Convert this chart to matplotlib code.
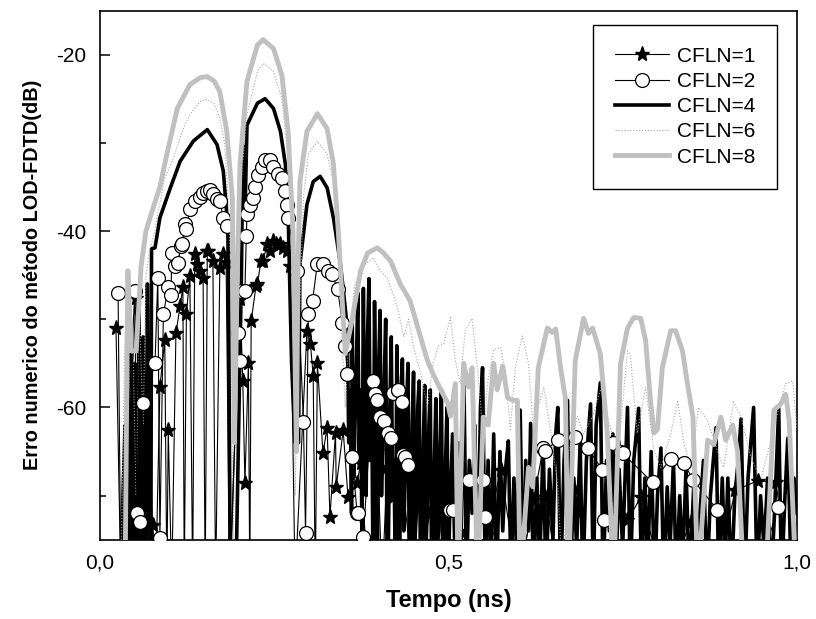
import matplotlib.pyplot as plt
from matplotlib.ticker import MultipleLocator
import numpy as np

plt.rcParams['font.family'] = ['Liberation Sans', 'DejaVu Sans']
plt.rcParams['axes.unicode_minus'] = False

# valores: tempo (ns) e erro (dB); -80 = abaixo do eixo
t1 = [0.023, 0.030, 0.052, 0.060, 0.076, 0.080, 0.086, 0.093, 0.096, 0.098, 0.103, 0.109, 0.115, 0.119, 0.121,
      0.124, 0.129, 0.133, 0.136, 0.139, 0.144, 0.148, 0.151, 0.154, 0.155, 0.162, 0.166, 0.172, 0.177, 0.181,
      0.186, 0.201, 0.205, 0.208, 0.213, 0.215, 0.217, 0.224, 0.226, 0.231, 0.234, 0.240, 0.244, 0.249, 0.253,
      0.259, 0.263, 0.269, 0.273, 0.280, 0.297, 0.302, 0.306, 0.309, 0.312, 0.320, 0.326, 0.330, 0.338, 0.339,
      0.349, 0.356, 0.369, 0.374, 0.385, 0.398, 0.405, 0.412, 0.421, 0.431, 0.450, 0.474, 0.490, 0.517, 0.540,
      0.575, 0.600, 0.622, 0.639, 0.660, 0.680, 0.710, 0.736, 0.757, 0.776, 0.810, 0.848, 0.880, 0.912, 0.944,
      0.970, 0.990]
v1 = [-51.0, -80, -47.6, -80, -73.3, -80, -57.7, -52.4, -80, -62.6, -80, -51.6, -48.5, -46.4, -80,
      -49.4, -45.1, -80, -42.6, -43.7, -44.5, -45.3, -80, -42.3, -42.3, -43.4, -80, -44.2, -42.6, -43.5,
      -80, -47.7, -57.0, -68.6, -55.0, -80, -50.2, -46.2, -46.0, -43.4, -43.4, -41.5, -42.3, -41.1, -41.5,
      -41.5, -41.9, -42.3, -44.0, -80, -51.3, -52.8, -56.4, -80, -55.0, -65.2, -62.3, -72.4, -62.9, -69.0,
      -62.6, -70.2, -68.6, -66.3, -80, -64.9, -80, -66.8, -70.2, -66.3, -80, -72.0, -80, -74.0, -80,
      -67.1, -80, -70.5, -70.2, -80, -69.2, -80, -67.7, -72.8, -70.2, -80, -73.0, -80, -69.4, -68.3,
      -68.5, -80]

t2 = [0.026, 0.030, 0.050, 0.053, 0.057, 0.062, 0.079, 0.083, 0.086, 0.091, 0.098, 0.102, 0.103, 0.108,
      0.112, 0.116, 0.118, 0.122, 0.124, 0.129, 0.136, 0.144, 0.148, 0.154, 0.158, 0.162, 0.168, 0.172,
      0.177, 0.182, 0.187, 0.198, 0.201, 0.203, 0.208, 0.210, 0.211, 0.216, 0.220, 0.223, 0.227, 0.233,
      0.237, 0.244, 0.249, 0.256, 0.261, 0.266, 0.269, 0.270, 0.283, 0.292, 0.295, 0.299, 0.305, 0.312,
      0.320, 0.327, 0.333, 0.341, 0.348, 0.352, 0.355, 0.362, 0.369, 0.371, 0.378, 0.392, 0.395, 0.398,
      0.402, 0.407, 0.414, 0.417, 0.421, 0.427, 0.428, 0.434, 0.435, 0.438, 0.442, 0.503, 0.507, 0.529,
      0.549, 0.553, 0.600, 0.636, 0.639, 0.657, 0.682, 0.700, 0.721, 0.723, 0.736, 0.747, 0.750, 0.793,
      0.819, 0.838, 0.851, 0.886, 0.940, 0.973, 0.990]
v2 = [-47.0, -80, -46.8, -72.0, -73.0, -59.5, -55.0, -45.3, -74.8, -49.4, -46.4, -47.3, -42.5, -44.0,
      -43.6, -41.7, -41.5, -39.2, -39.8, -37.5, -36.6, -36.1, -35.7, -35.5, -35.3, -35.8, -36.4, -36.6,
      -38.5, -39.4, -80, -51.6, -54.7, -46.8, -46.8, -40.6, -38.1, -37.0, -36.3, -35.0, -33.6, -32.7,
      -31.9, -31.9, -32.7, -33.5, -34.0, -35.5, -37.0, -38.5, -44.5, -61.7, -74.2, -49.4, -47.9, -43.7,
      -43.7, -44.5, -44.9, -46.6, -50.4, -53.0, -56.2, -65.6, -72.0, -72.0, -74.7, -57.0, -58.5, -59.2,
      -61.1, -61.5, -62.9, -63.5, -58.4, -58.0, -58.0, -59.4, -65.4, -65.6, -66.5, -71.6, -71.6, -68.2,
      -68.2, -72.4, -80, -64.6, -64.9, -63.7, -63.4, -64.6, -67.1, -72.8, -64.0, -65.0, -65.2, -68.5,
      -65.8, -66.3, -68.2, -71.6, -80, -71.3, -80]

t4 = [0.030, 0.033, 0.036, 0.038, 0.040, 0.042, 0.044, 0.046, 0.047, 0.049, 0.050, 0.052, 0.053, 0.055,
      0.056, 0.058, 0.059, 0.061, 0.062, 0.064, 0.065, 0.067, 0.068, 0.070, 0.071, 0.073, 0.074,
      0.079, 0.086, 0.101, 0.115, 0.134, 0.154, 0.168, 0.177, 0.184, 0.187, 0.195, 0.203, 0.205, 0.208,
      0.211, 0.226, 0.237, 0.249, 0.259, 0.266, 0.270, 0.275, 0.280, 0.285, 0.287, 0.297, 0.306, 0.316,
      0.326, 0.335, 0.345, 0.349, 0.355, 0.357, 0.359, 0.361, 0.362, 0.364, 0.366, 0.368, 0.370, 0.372,
      0.374, 0.376, 0.378, 0.380, 0.382, 0.384, 0.386, 0.388, 0.390, 0.392, 0.394, 0.396, 0.398, 0.400,
      0.402, 0.404, 0.406, 0.408, 0.410, 0.412, 0.414, 0.416, 0.418, 0.420, 0.422, 0.424, 0.426, 0.428,
      0.430, 0.432, 0.434, 0.436, 0.438, 0.440, 0.442, 0.444, 0.446, 0.448, 0.450, 0.452, 0.454, 0.456,
      0.458, 0.460, 0.462, 0.464, 0.466, 0.468, 0.470, 0.472, 0.474, 0.476, 0.478, 0.480, 0.482, 0.484,
      0.486, 0.488, 0.490, 0.492, 0.494, 0.496, 0.498, 0.500, 0.502,
      0.506, 0.510, 0.514, 0.518, 0.522, 0.526, 0.530, 0.534, 0.538, 0.542, 0.546, 0.549, 0.553, 0.557,
      0.561, 0.565, 0.569, 0.574, 0.578, 0.582, 0.586, 0.590, 0.594, 0.598, 0.603, 0.607, 0.611, 0.615,
      0.618, 0.622, 0.627, 0.631, 0.636, 0.640, 0.645, 0.650, 0.654, 0.657, 0.661, 0.666, 0.671, 0.675,
      0.680, 0.684, 0.689, 0.693, 0.698, 0.704, 0.708, 0.712, 0.718, 0.722, 0.727, 0.731, 0.736, 0.740,
      0.745, 0.750, 0.757, 0.761, 0.766, 0.773, 0.777, 0.782, 0.786, 0.791, 0.796, 0.800, 0.805, 0.809,
      0.814, 0.818, 0.823, 0.827, 0.832, 0.836, 0.841, 0.846, 0.852, 0.856, 0.861, 0.866, 0.871, 0.876,
      0.884, 0.888, 0.893, 0.897, 0.901, 0.906, 0.911, 0.916, 0.920, 0.925, 0.930, 0.938, 0.943, 0.948,
      0.953, 0.958, 0.963, 0.968, 0.974, 0.978, 0.983, 0.987, 0.992, 0.996, 1.000]
v4 = [-80, -70, -62, -80, -58, -80, -52, -76, -60, -80, -55, -78, -66, -80,
      -49, -74, -62, -80, -52, -70, -60, -80, -46, -72, -58, -80, -42,
      -41.9, -38.5, -35.1, -32.1, -29.8, -28.5, -30.2, -33.2, -40, -80, -80, -45, -30.2, -38.5,
      -28, -25.5, -25, -26.1, -28.7, -32.4, -38, -55, -64, -64, -43.7, -37, -34.4, -33.8,
      -35.1, -38.5, -43.7, -46.5, -51, -64, -58, -72, -50, -68, -62, -55, -47, -66,
      -58, -75, -46.5, -64, -70, -52, -45.4, -66, -60, -80, -48, -62, -80, -55,
      -49, -70, -63, -57, -50, -78, -75, -60, -52, -70, -66, -80, -53, -64,
      -80, -58, -54.5, -74, -68, -60, -55, -80, -80, -62, -56, -75, -72, -60,
      -57, -80, -80, -64, -57.5, -76, -70, -62, -58, -80, -80, -66, -59, -76,
      -74, -64, -58, -80, -80, -66, -60, -78, -72,
      -63, -80, -64, -76, -55, -80, -66, -72, -62, -80, -60, -55.5, -80, -66,
      -78, -63, -80, -65, -74, -67, -63.8, -80, -68, -76, -60.3, -80, -66, -74,
      -61.8, -80, -68, -78, -64, -80, -67, -75, -63, -60, -80, -66, -59.2, -80,
      -68, -76, -64, -80, -66, -59.6, -80, -62, -57.2, -80, -66, -74, -63, -80,
      -67, -76, -60, -80, -66, -60.1, -80, -68, -78, -65, -80, -70, -64.6, -80,
      -69, -76, -66, -80, -70, -78, -67, -80, -69, -80, -72, -66, -80, -70,
      -62.3, -80, -68, -78, -68, -80, -70, -66, -61.3, -80, -68, -60, -80, -70,
      -76, -68, -80, -72, -60.1, -80, -70, -63.5, -80, -68, -72]

t6 = [0.030, 0.035, 0.039, 0.043, 0.047, 0.052, 0.056, 0.062, 0.066, 0.072, 0.079, 0.082, 0.093, 0.105,
      0.119, 0.129, 0.144, 0.154, 0.164, 0.172, 0.179, 0.184, 0.188, 0.191, 0.195, 0.199, 0.204, 0.211,
      0.226, 0.234, 0.249, 0.261, 0.270, 0.276, 0.280, 0.284, 0.292, 0.299, 0.312, 0.326, 0.335, 0.342,
      0.346, 0.352, 0.357, 0.366, 0.378, 0.392, 0.402, 0.412, 0.420, 0.427, 0.436, 0.443, 0.450, 0.460,
      0.470, 0.478, 0.486, 0.493, 0.503, 0.510, 0.517, 0.524, 0.534, 0.539, 0.546, 0.550, 0.556, 0.565,
      0.575, 0.582, 0.589, 0.596, 0.606, 0.615, 0.622, 0.629, 0.637, 0.647, 0.657, 0.664, 0.671, 0.685,
      0.694, 0.707, 0.721, 0.728, 0.743, 0.757, 0.761, 0.771, 0.783, 0.795, 0.805, 0.819, 0.829, 0.838,
      0.848, 0.859, 0.872, 0.886, 0.895, 0.909, 0.920, 0.934, 0.948, 0.963, 0.977, 0.984, 0.994, 1.000]
v6 = [-80, -55, -46, -60, -52, -70, -48, -62, -45, -42, -40, -38.5, -34, -31.8,
      -28.5, -26.8, -25.3, -25.1, -25.6, -27.2, -30, -36.6, -45, -75, -60, -40, -33, -26.8,
      -21.9, -21, -21.9, -25, -31.8, -40, -70, -55, -36.3, -31.3, -29.8, -31.3, -34.5, -40,
      -50, -60, -52, -46, -44, -43, -44.5, -45.3, -47, -48.7, -52, -50, -53.2, -56,
      -60, -55, -53, -52.8, -49.8, -54.7, -57.3, -51.3, -49.9, -53.6, -59.2, -64.9, -57.3, -53.4,
      -53.2, -56.3, -62.5, -55.5, -51.9, -55, -62.9, -59.9, -57.7, -62.9, -69, -80, -65.6, -61,
      -63, -61, -57.3, -60.9, -65.6, -53.6, -54, -62.9, -57.7, -64.9, -66.8, -63, -59.2, -64.1,
      -66.8, -60, -61.5, -64.9, -66.8, -59.4, -61.1, -65.6, -68.2, -63.7, -59.2, -57.3, -57, -62.3]

t8 = [0.036, 0.040, 0.045, 0.052, 0.059, 0.066, 0.075, 0.086, 0.096, 0.111, 0.129, 0.144, 0.154, 0.164,
      0.172, 0.182, 0.190, 0.193, 0.197, 0.201, 0.211, 0.226, 0.234, 0.249, 0.261, 0.270, 0.277, 0.282,
      0.284, 0.287, 0.297, 0.312, 0.326, 0.335, 0.342, 0.352, 0.362, 0.374, 0.384, 0.398, 0.407, 0.417,
      0.431, 0.445, 0.460, 0.470, 0.478, 0.489, 0.499, 0.503, 0.510, 0.514, 0.522, 0.529, 0.534, 0.542,
      0.550, 0.557, 0.565, 0.570, 0.578, 0.585, 0.593, 0.599, 0.603, 0.615, 0.621, 0.629, 0.642, 0.649,
      0.654, 0.661, 0.668, 0.672, 0.682, 0.694, 0.701, 0.707, 0.718, 0.728, 0.737, 0.747, 0.757, 0.766,
      0.776, 0.783, 0.790, 0.795, 0.800, 0.807, 0.819, 0.826, 0.836, 0.843, 0.851, 0.858, 0.872, 0.881,
      0.891, 0.898, 0.908, 0.915, 0.924, 0.955, 0.967, 0.977, 0.984, 0.989, 0.999]
v8 = [-80, -44.5, -53.6, -53.6, -44, -40, -37.7, -35, -31.3, -26.1, -23.4, -22.6, -22.5, -23.0,
      -24.2, -28.7, -36.3, -64, -45, -32.4, -23, -18.9, -18.3, -19.3, -22.3, -28.7, -40, -65,
      -45, -34.4, -28.7, -26.7, -28.4, -32.4, -40, -53.9, -50, -44.5, -42.5, -41.9, -42.5, -43.4,
      -46, -47.9, -52, -54.7, -56.2, -58, -59.5, -61, -57.3, -80, -55, -57.7, -55.5, -80,
      -61.1, -62, -55, -58, -55.3, -58.9, -59.2, -59.2, -80, -66.8, -69, -55.5, -51, -51.5,
      -51.1, -55.5, -59, -80, -54.7, -49.9, -51.6, -51, -53.9, -62.9, -80, -55, -51, -49.8,
      -49.9, -52.4, -59.2, -62.9, -62.5, -55.5, -51.3, -51.3, -53.6, -57.3, -61.1, -80, -63.7, -64.2,
      -61.1, -63.7, -62, -65, -80, -80, -60.3, -59.6, -58.5, -61.5, -80]

fig = plt.figure(figsize=(8.16, 6.19), dpi=100)
ax = fig.add_axes([0.1225, 0.128, 0.854, 0.855])

l4, = ax.plot(t4, v4, color='black', lw=2.6, zorder=2)
l6, = ax.plot(t6, v6, color='#a8a8a8', lw=0.8, ls=':', zorder=3)
l1, = ax.plot(t1, v1, color='black', lw=0.8, marker='*', ms=11, mfc='black', mec='black', zorder=4)
l2, = ax.plot(t2, v2, color='black', lw=0.8, marker='o', ms=10, mfc='white', mec='black', mew=0.9, zorder=5)
l8, = ax.plot(t8, v8, color='#c0c0c0', lw=3.5, zorder=6)

ax.set_xlim(0, 1.0)
ax.set_ylim(-75, -15)
ax.set_xticks([0, 0.5, 1.0])
ax.set_xticklabels(['0,0', '0,5', '1,0'])
ax.set_yticks([-20, -40, -60])
ax.yaxis.set_minor_locator(MultipleLocator(10))
ax.tick_params(axis='y', which='major', direction='in', length=7, width=1.1, labelsize=15, pad=10)
ax.tick_params(axis='y', which='minor', direction='in', length=4.5, width=1.1)
ax.tick_params(axis='x', which='major', direction='in', length=0, labelsize=15, pad=10)
for s in ax.spines.values():
    s.set_linewidth(1.2)

ax.set_xlabel('Tempo (ns)', fontsize=17, fontweight='bold', labelpad=12)
ax.set_ylabel('Erro numerico do método LOD-FDTD(dB)', fontsize=14.3, fontweight='bold', labelpad=10)

leg = ax.legend([l1, l2, l4, l6, l8], ['CFLN=1', 'CFLN=2', 'CFLN=4', 'CFLN=6', 'CFLN=8'],
                loc='upper right', bbox_to_anchor=(0.972, 0.973), fontsize=15, frameon=True,
                fancybox=False, framealpha=1, edgecolor='black', handlelength=2.6,
                handletextpad=0.4, labelspacing=0.3, borderpad=1.05, borderaxespad=0)
leg.get_frame().set_linewidth(1.0)

fig.savefig('out.png', dpi=100)
